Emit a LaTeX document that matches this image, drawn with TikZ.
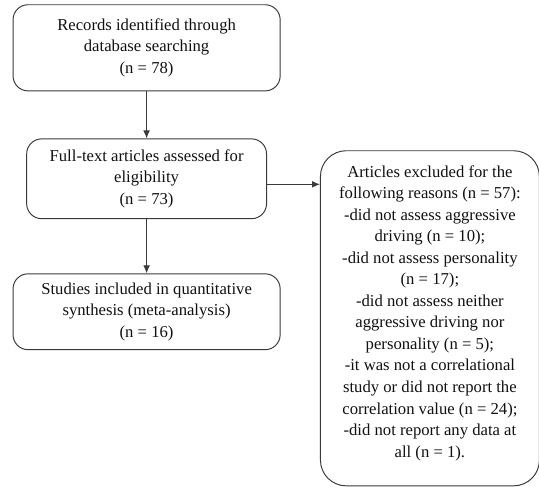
\documentclass[tikz,border=0pt]{standalone}
\usepackage{fontspec}
\setmainfont{Liberation Serif}
\usepackage{tikz}
\usetikzlibrary{arrows.meta,positioning,calc}
\definecolor{LineDark}{HTML}{3A3A3A}
\definecolor{TextBlack}{HTML}{111111}

\begin{document}
\begin{tikzpicture}[
  box/.style={draw=LineDark, line width=0.7pt, rounded corners=3.8mm, align=center, fill=white,
    text=TextBlack, font=\fontsize{12pt}{15.5pt}\selectfont, inner sep=0pt},
  wide/.style={box, minimum width=67.6mm},
  excl/.style={box, rounded corners=6.5mm, minimum width=55.4mm, minimum height=84.8mm},
  arrow/.style={-{Latex[length=2mm, width=1.7mm]}, line width=0.7pt, draw=LineDark}
]
  \useasboundingbox (0,0) rectangle (136.4mm,-123.2mm);

  \node[wide, minimum height=21.8mm] (records) at (37.1mm,-12.1mm) {Records identified through\\database searching\\(n = 78)};
  \node[box, minimum width=60.7mm, minimum height=20.2mm, below=11.9mm of records] (fulltext) {Full-text articles assessed for\\eligibility\\(n = 73)};
  \node[wide, minimum height=19.2mm, below=13.7mm of fulltext] (studies) {Studies included in quantitative\\synthesis (meta-analysis)\\(n = 16)};
  \node[excl, anchor=north west] (excluded) at ([xshift=13.4mm, yshift=-3mm]fulltext.north east)
    {Articles excluded for the\\following reasons (n = 57):\\-did not assess aggressive\\driving (n = 10);\\-did not assess personality\\(n = 17);\\-did not assess neither\\aggressive driving nor\\personality (n = 5);\\-it was not a correlational\\study or did not report the\\correlation value (n = 24);\\-did not report any data at\\all (n = 1).\\[-1.9mm]};

  \draw[arrow] (records.south) -- (records.south |- fulltext.north);
  \draw[arrow] (fulltext.south) -- (fulltext.south |- studies.north);
  \draw[arrow] ([yshift=-1.4mm]fulltext.east) -- ([yshift=-1.4mm]fulltext.east -| excluded.west);
\end{tikzpicture}
\end{document}
